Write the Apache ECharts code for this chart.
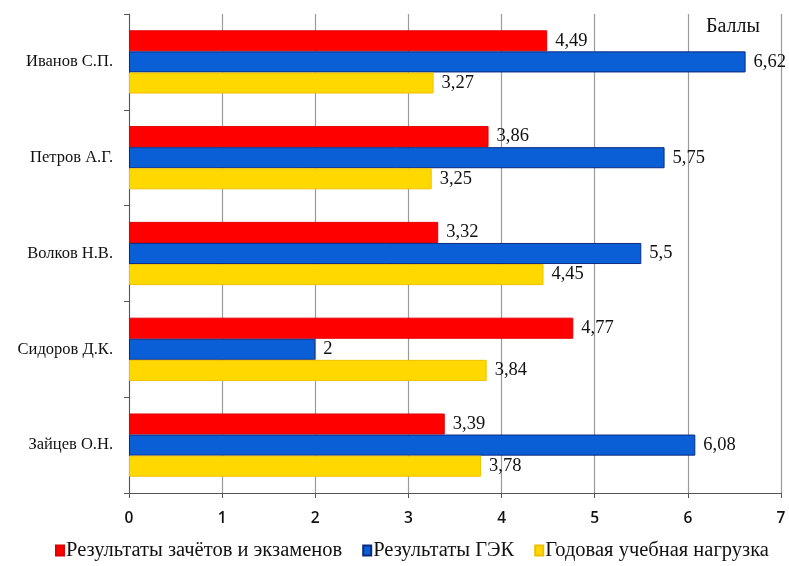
<!DOCTYPE html>
<html>
<head>
<meta charset="utf-8">
<script src="https://cdn.jsdelivr.net/npm/echarts@6/dist/echarts.min.js"></script>
<style>
  html, body { margin: 0; padding: 0; background: #fff; }
  #chart { width: 789px; height: 566px; }
</style>
</head>
<body>
<div id="chart"></div>
<script>
// Students, listed top to bottom
const students = ['Иванов С.П.', 'Петров А.Г.', 'Волков Н.В.', 'Сидоров Д.К.', 'Зайцев О.Н.'];

// Scores per series
const examScores = [4.49, 3.86, 3.32, 4.77, 3.39];
const gekScores = [6.62, 5.75, 5.5, 2, 6.08];
const workloadScores = [3.27, 3.25, 4.45, 3.84, 3.78];

const seriesNames = ['Результаты зачётов и экзаменов', 'Результаты ГЭК', 'Годовая учебная нагрузка'];
const axisTicks = [0, 1, 2, 3, 4, 5, 6, 7];

const serif = '"Liberation Serif", "DejaVu Serif", serif';
const fmtComma = p => String(p.value).replace('.', ',');

function barSeries(name, data, color, border) {
  return {
    name: name,
    type: 'bar',
    data: data,
    barGap: '0%',
    barCategoryGap: '34%',
    itemStyle: { color: color, borderColor: border, borderWidth: 1 },
    label: {
      show: true,
      position: 'right',
      distance: 8,
      formatter: fmtComma,
      fontFamily: serif,
      fontSize: 18.5,
      color: '#111'
    }
  };
}

const chart = echarts.init(document.getElementById('chart'), null, { renderer: 'canvas' });
chart.setOption({
  animation: false,
  backgroundColor: '#fff',
  grid: { left: 129, right: 8, top: 14, bottom: 73, containLabel: false },
  legend: {
    bottom: 0,
    left: 50,
    itemWidth: 8,
    itemHeight: 10,
    itemGap: 20,
    icon: 'rect',
    textStyle: { fontFamily: serif, fontSize: 20.5, color: '#111', padding: [0, 0, 0, -3] },
    data: seriesNames
  },
  xAxis: {
    type: 'value',
    min: axisTicks[0],
    max: axisTicks[axisTicks.length - 1],
    interval: 1,
    axisLine: { show: true, lineStyle: { color: '#555', width: 1 } },
    axisTick: { show: true, length: 5, lineStyle: { color: '#555' } },
    axisLabel: {
      fontFamily: '"Open Sans", sans-serif',
      fontSize: 15.5,
      fontWeight: 600,
      color: '#111',
      margin: 18
    },
    splitLine: { show: true, lineStyle: { color: '#9a9a9a', width: 1.2 } },
    name: 'Баллы',
    nameLocation: 'end',
    nameGap: 0,
    nameTextStyle: {
      fontFamily: serif,
      fontSize: 20,
      color: '#111',
      align: 'right',
      verticalAlign: 'bottom',
      padding: [0, 21, 456, 0]
    }
  },
  yAxis: {
    type: 'category',
    inverse: true,
    data: students,
    axisLine: { show: true, lineStyle: { color: '#555', width: 1 } },
    axisTick: { show: true, length: 5, lineStyle: { color: '#555' } },
    axisLabel: {
      fontFamily: serif,
      fontSize: 16.5,
      color: '#111',
      margin: 16
    }
  },
  series: [
    barSeries(seriesNames[0], examScores, '#ff0000', '#e00000'),
    barSeries(seriesNames[1], gekScores, '#0a5fd6', '#0a2a80'),
    barSeries(seriesNames[2], workloadScores, '#ffd800', '#f0c000')
  ]
});
</script>
</body>
</html>
